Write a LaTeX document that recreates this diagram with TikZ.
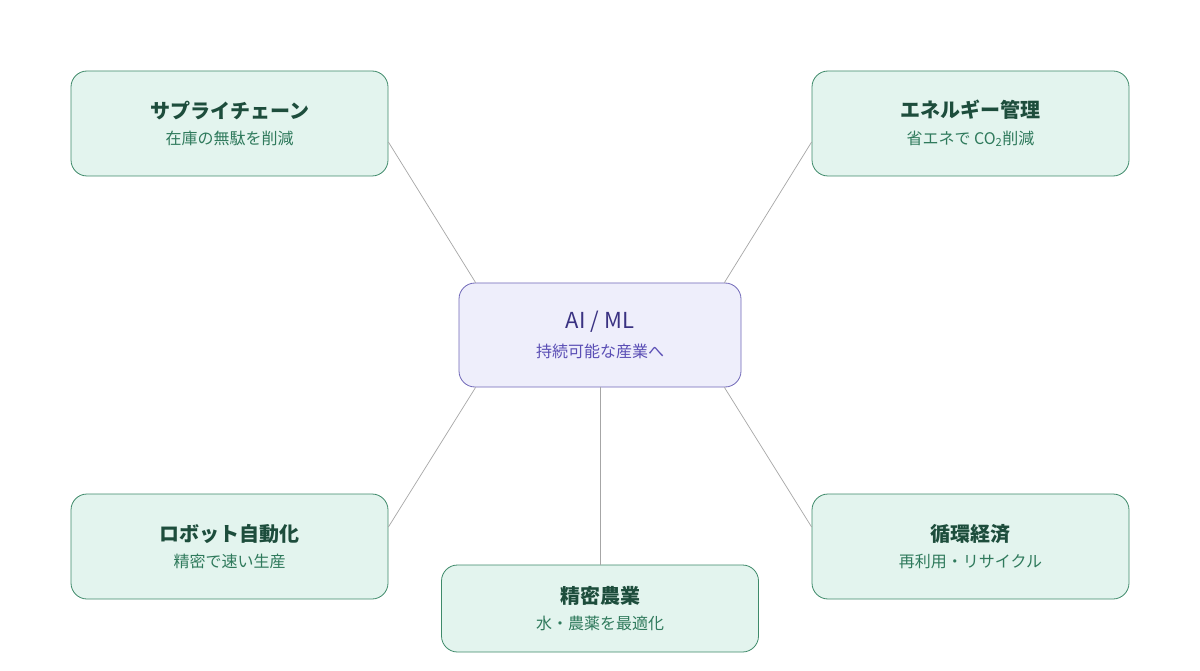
\documentclass[tikz,border=0pt]{standalone}
\usepackage{fontspec}
\setmainfont{Noto Sans CJK JP}
\usetikzlibrary{positioning,calc}
\definecolor{leaffill}{HTML}{E3F4EE}
\definecolor{leafline}{HTML}{3E8A6A}
\definecolor{leaftitle}{HTML}{1D4D3C}
\definecolor{leafsub}{HTML}{2F7A5C}
\definecolor{hubfill}{HTML}{EEEEFB}
\definecolor{hubline}{HTML}{7068B8}
\definecolor{hubtitle}{HTML}{3A3282}
\definecolor{hubsub}{HTML}{5A4EB5}
\tikzset{
  leaf/.style={draw=leafline, fill=leaffill, rounded corners=16pt, minimum width=317pt, minimum height=105pt, align=center, line width=0.8pt},
  hub/.style={draw=hubline, fill=hubfill, rounded corners=16pt, minimum width=282pt, minimum height=104pt, align=center, line width=0.8pt},
  link/.style={draw=gray!70, line width=0.7pt}
}
\newcommand{\leaftext}[2]{{\fontsize{20}{24}\selectfont\bfseries\color{leaftitle}#1}\\[10pt]{\fontsize{16}{20}\selectfont\color{leafsub}#2}}
\begin{document}
\begin{tikzpicture}[x=1pt,y=-1pt]
\useasboundingbox (0,0) rectangle (1200,671);
\fill[white] (0,0) rectangle (1200,671);

% hub
\node[hub] (ai) at (600,335) {{\fontsize{22}{26}\selectfont\color{hubtitle}AI / ML}\\[10pt]{\fontsize{16}{20}\selectfont\color{hubsub}持続可能な産業へ}};

% leaves
\node[leaf] (supply) at (229.5,123.5) {\leaftext{サプライチェーン}{在庫の無駄を削減}};
\node[leaf] (energy) at (970.5,123.5) {\leaftext{エネルギー管理}{省エネで CO\textsubscript{2}削減}};
\node[leaf] (robot) at (229.5,546.5) {\leaftext{ロボット自動化}{精密で速い生産}};
\node[leaf] (cycle) at (970.5,546.5) {\leaftext{循環経済}{再利用・リサイクル}};
\node[leaf, minimum height=87pt] (farm) at (600,608.5) {\leaftext{精密農業}{水・農薬を最適化}};

% links
\draw[link] ($(ai.north west)+(17,0)$) -- ($(supply.east)+(0,18.5)$);
\draw[link] ($(ai.north east)+(-17,0)$) -- ($(energy.west)+(0,18.5)$);
\draw[link] ($(ai.south west)+(17,0)$) -- ($(robot.east)+(0,-19.5)$);
\draw[link] ($(ai.south east)+(-17,0)$) -- ($(cycle.west)+(0,-19.5)$);
\draw[link] (ai.south) -- (farm.north);
\end{tikzpicture}
\end{document}
